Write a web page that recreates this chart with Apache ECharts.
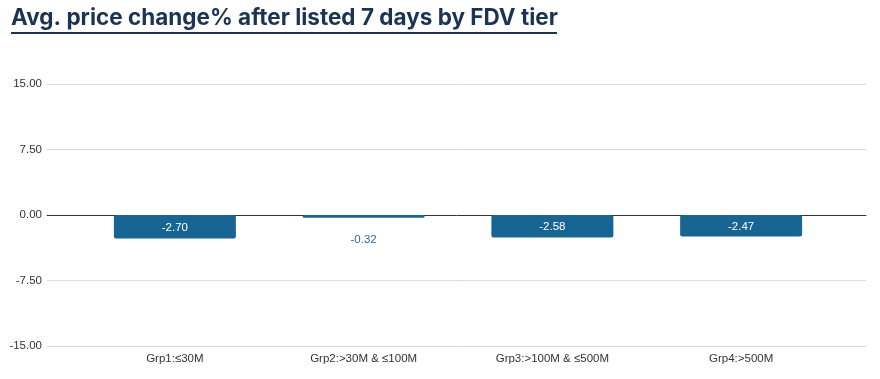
<!DOCTYPE html>
<html><head><meta charset="utf-8">
<script src="https://cdn.jsdelivr.net/npm/echarts@6/dist/echarts.min.js"></script>
<style>html,body{margin:0;padding:0;background:#fff}#c{width:880px;height:379px}</style>
</head><body><div id="c"></div>
<script>
const titleText = "Avg. price change% after listed 7 days by FDV tier";
const categories = ["Grp1:\u226430M", "Grp2:>30M & \u2264100M", "Grp3:>100M & \u2264500M", "Grp4:>500M"];
const values = [-2.70, -0.32, -2.58, -2.47];
const yMin = -15, yMax = 15, yStep = 7.5;

const barColor = "#186593";
const chart = echarts.init(document.getElementById('c'));
chart.setOption({
  animation: false,
  title: {
    text: titleText, left: 6, top: 2,
    textStyle: {fontFamily: "Inter, Roboto, sans-serif", fontSize: 22.5, fontWeight: "bold", color: "#1b3453"}
  },
  graphic: [{type: 'rect', shape: {x: 11, y: 32, width: 546, height: 2}, style: {fill: "#1b3453"}}],
  grid: [
    {left: 47, right: 14, top: 84, bottom: 33},
    {left: 80.5, right: 44.5, top: 84, bottom: 33}
  ],
  xAxis: [
    {gridIndex: 0, type: 'category', data: categories, axisLabel: {show: false}, axisTick: {show: false},
     axisLine: {show: true, onZero: true, lineStyle: {color: "#333", width: 1}}, splitLine: {show: false}},
    {gridIndex: 1, type: 'category', data: categories, axisLine: {show: false}, axisTick: {show: false},
     axisLabel: {show: true, position: 'bottom', margin: 7, fontFamily: "Liberation Sans, Arial, sans-serif", fontSize: 11.5, color: "#333"},
     position: 'bottom'}
  ],
  yAxis: [
    {gridIndex: 0, type: 'value', min: yMin, max: yMax, interval: yStep,
     axisLabel: {formatter: v => v.toFixed(2), fontFamily: "Liberation Sans, Arial, sans-serif", fontSize: 11.5, color: "#333", margin: 5},
     axisLine: {show: false}, axisTick: {show: false},
     splitLine: {lineStyle: {color: "#dcdcdc", width: 1}}},
    {gridIndex: 1, type: 'value', min: yMin, max: yMax, interval: yStep, show: false, splitLine: {show: false}}
  ],
  series: [{
    type: 'bar', xAxisIndex: 1, yAxisIndex: 1, barWidth: 122,
    itemStyle: {color: barColor, borderRadius: 2},
    data: values.map(v => ({
      value: v,
      label: Math.abs(v) < 1
        ? {show: true, position: 'bottom', distance: 16, color: "#2f6a93"}
        : {show: true, position: 'inside', color: "#fff", offset: [0, 1]}
    })),
    label: {show: true, formatter: p => p.value.toFixed(2), fontFamily: "Liberation Sans, Arial, sans-serif", fontSize: 11.5}
  }]
});
</script></body></html>
